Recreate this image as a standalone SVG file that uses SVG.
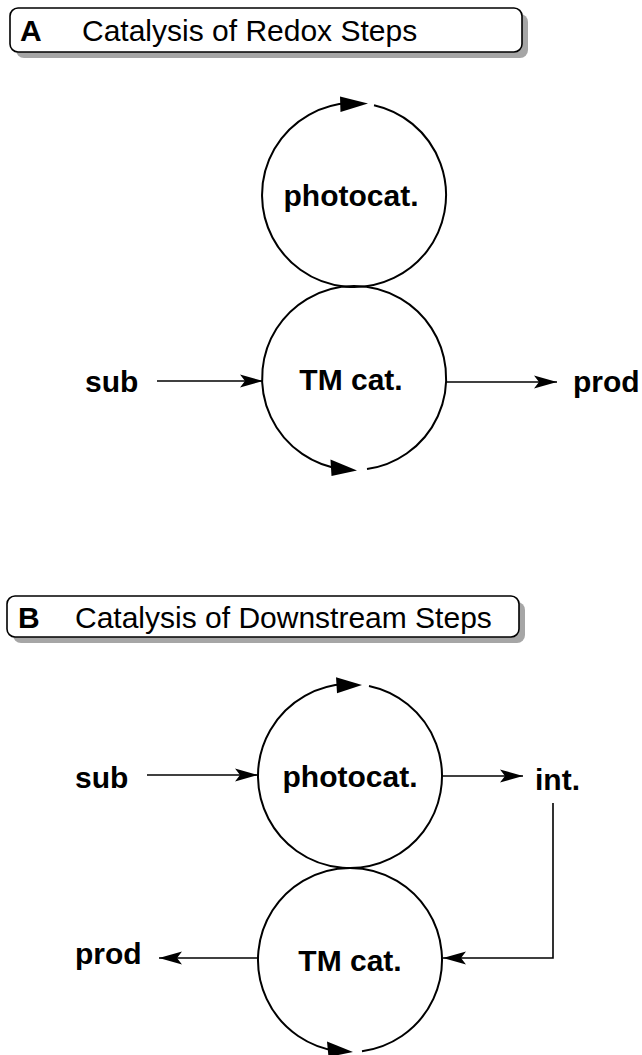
<svg xmlns="http://www.w3.org/2000/svg" width="642" height="1055" viewBox="0 0 642 1055">
<style>
.bg{fill:#ffffff}
.box{fill:#ffffff;stroke:#000;stroke-width:1.6}
.shadow{fill:#a6a6a6}
.title{font-family:"Liberation Sans",Arial,sans-serif;font-size:30px;fill:#000}
.tb{font-weight:bold}
.lbl{font-family:"Liberation Sans",Arial,sans-serif;font-size:30px;font-weight:bold;fill:#000}
.circ{fill:none;stroke:#000;stroke-width:2}
.head{fill:#000;stroke:none}
.conn{fill:none;stroke:#000;stroke-width:1.6}
</style>
<defs>
<marker id="ah" markerUnits="userSpaceOnUse" markerWidth="26" markerHeight="16" viewBox="-25 -8 26 16" refX="0" refY="0" orient="auto">
<path d="M0,0 L-23,-6.5 L-18,0 L-23,6.5 Z" fill="#000"/>
</marker>
</defs>
<rect class="bg" x="0" y="0" width="642" height="1055"/>

<g id="titleA">
<rect class="shadow" x="16" y="14" width="512" height="44" rx="8"/>
<rect class="box" x="10" y="8" width="512" height="44" rx="8"/>
<text class="title tb" x="20" y="41">A</text>
<text class="title" x="82" y="41">Catalysis of Redox Steps</text>
</g>

<g id="A_photocat">
<path class="circ" d="M374,105.2 A92,92 0 1 1 350,103.1"/>
<path class="head" d="M368,103.5 L340,96.5 L340.5,112 Z"/>
<text class="lbl" x="351" y="206" text-anchor="middle">photocat.</text>
</g>

<g id="A_tmcat">
<path class="circ" d="M367,469.1 A92,92 0 1 0 342,469.2"/>
<path class="head" d="M357,470.5 L330.5,459.5 L331.5,476 Z"/>
<text class="lbl" x="351" y="390" text-anchor="middle">TM cat.</text>
</g>

<g id="A_sub"><text class="lbl" x="85" y="392">sub</text></g>
<g id="A_prod"><text class="lbl" x="573" y="392">prod</text></g>

<g id="titleB">
<rect class="shadow" x="13" y="602" width="512" height="41" rx="8"/>
<rect class="box" x="7" y="596" width="512" height="41" rx="8"/>
<text class="title tb" x="18" y="628">B</text>
<text class="title" x="75" y="628">Catalysis of Downstream Steps</text>
</g>

<g id="B_photocat">
<path class="circ" d="M369,686 A92,92 0 1 1 346,684.1"/>
<path class="head" d="M362,685 L336,677.3 L337,693.3 Z"/>
<text class="lbl" x="350" y="787" text-anchor="middle">photocat.</text>
</g>

<g id="B_tmcat">
<path class="circ" d="M362,1051.2 A92,92 0 1 0 338,1051.2"/>
<path class="head" d="M353,1052 L327,1041.5 L328.5,1057 Z"/>
<text class="lbl" x="350" y="971" text-anchor="middle">TM cat.</text>
</g>

<g id="B_sub"><text class="lbl" x="75" y="788">sub</text></g>
<g id="B_int"><text class="lbl" x="535" y="790">int.</text></g>
<g id="B_prod"><text class="lbl" x="75" y="964">prod</text></g>

<g id="connectors">
<line class="conn" x1="157" y1="381" x2="263" y2="381" marker-end="url(#ah)"/>
<line class="conn" x1="446" y1="382" x2="557" y2="382" marker-end="url(#ah)"/>
<line class="conn" x1="147" y1="775" x2="258" y2="775" marker-end="url(#ah)"/>
<line class="conn" x1="442" y1="776" x2="523" y2="776" marker-end="url(#ah)"/>
<polyline class="conn" points="553,803 553,958 443,958" marker-end="url(#ah)"/>
<line class="conn" x1="258" y1="958" x2="159" y2="958" marker-end="url(#ah)"/>
</g>
</svg>
